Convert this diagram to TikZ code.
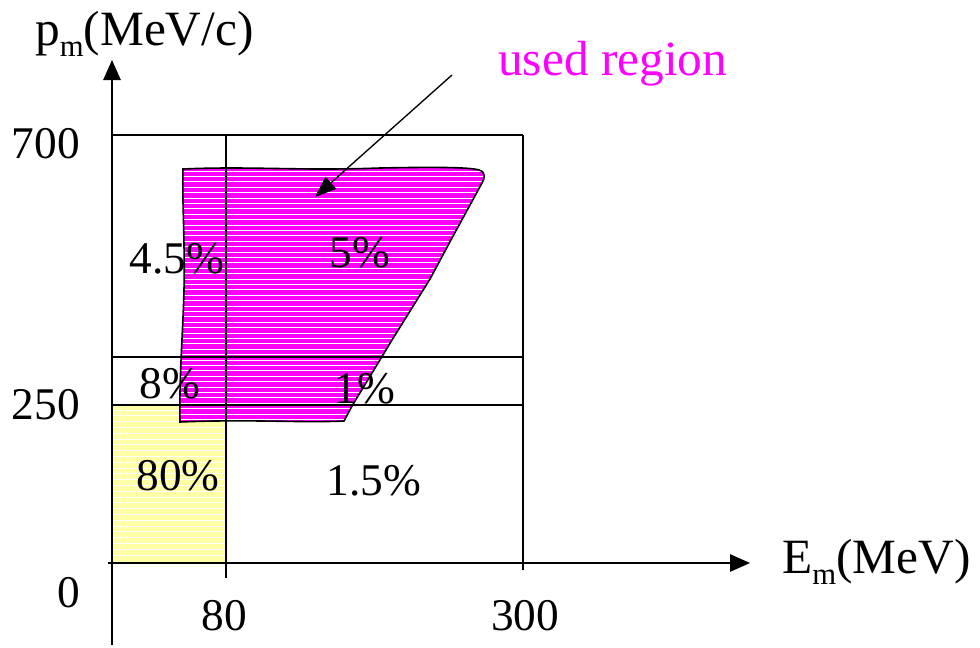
\documentclass[tikz,border=0pt]{standalone}
\usepackage{fontspec}
\setmainfont{Liberation Serif}
\usetikzlibrary{arrows.meta}

\definecolor{usedpink}{RGB}{255,0,255}
\definecolor{paleyellow}{RGB}{255,255,165}

% subscript m as in the plot labels
\newcommand{\subm}{\raisebox{-0.24em}{\fontsize{23}{26}\selectfont m}}

% outline of the used region (hand drawn)
\newcommand{\usedoutline}{(183,169) .. controls (250,166) and (300,171) .. (380,168)
  .. controls (430,167) and (470,167) .. (479,170) .. controls (486,172) and (485,178) .. (482,183)
  -- (452,238) -- (430,279) -- (392,340) -- (352,406) -- (344,421)
  .. controls (300,423) and (250,419) .. (180,422)
  .. controls (179,380) and (183,330) .. (184,290) .. controls (185,240) and (182,200) .. (183,169) -- cycle}

\begin{document}
\begin{tikzpicture}[x=0.75pt,y=-0.75pt,
  lbl/.style={font=\fontsize{34}{40}\selectfont, inner sep=0pt},
  wordlbl/.style={font=\fontsize{37}{44}\selectfont, inner sep=0pt},
  axis/.style={line width=1.3pt, -{Triangle[length=15pt,width=13pt]}},
  gridline/.style={line width=1pt},
  stripe/.style={white, line width=0.7pt}]
\useasboundingbox (0,0) rectangle (980,647);

% Corners of the axes
\coordinate (ybot) at (112,645);
\coordinate (ytop) at (112,60);
\coordinate (xleft) at (108,563);
\coordinate (xright) at (750,563);

% Yellow 80% cell
\fill[paleyellow] (112,405) rectangle (228,563);
\foreach \y in {410,415.8,...,560} \draw[stripe] (113,\y) -- (227,\y);

% Used region
\fill[usedpink] \usedoutline;
\begin{scope}
  \clip \usedoutline;
  \foreach \y in {171,176.4,...,425} \draw[stripe] (175,\y) -- (490,\y);
\end{scope}
\draw[line width=1.2pt] \usedoutline;

% Grid of cells
\draw[gridline] (112,135) -- (523,135);
\draw[gridline] (523,135) -- (523,570);
\draw[gridline] (226,135) -- (226,578);
\draw[gridline] (112,357) -- (523,357);
\draw[gridline] (112,405) -- (523,405);

% Axes
\draw[axis] (ybot) -- (ytop);
\draw[axis] (xleft) -- (xright);

% Axis labels and ticks
\node[wordlbl, anchor=base west] (pm) at (35,45) {p\subm(MeV/c)};
\node[wordlbl, anchor=base west] (em) at (782,573) {E\subm(MeV)};
\node[lbl, anchor=base east] (p700) at (80,158) {700};
\node[lbl, anchor=base east] (p250) at (80,419) {250};
\node[lbl, anchor=base east] (p0) at (80,607) {0};
\node[lbl, anchor=base] (e80) at (224,630) {80};
\node[lbl, anchor=base] (e300) at (525,630) {300};

% Cell fractions
\node[lbl, anchor=base] (c45) at (177,273) {4.5\%};
\node[lbl, anchor=base] (c5) at (360,267) {5\%};
\node[lbl, anchor=base] (c8) at (170,398) {8\%};
\node[lbl, anchor=base] (c1) at (365,403) {1\%};
\node[lbl, anchor=base] (c80) at (178,490) {80\%};
\node[lbl, anchor=base] (c15) at (374,495) {1.5\%};

% Pointer to the used region
\node[wordlbl, anchor=base west, text=usedpink] (used) at (498,75) {used region};
\coordinate (tail) at (452,75);
\coordinate (tip) at (315,197);
\draw[line width=1pt, -{Triangle[length=16pt,width=12pt]}] (tail) -- (tip);
\end{tikzpicture}
\end{document}
